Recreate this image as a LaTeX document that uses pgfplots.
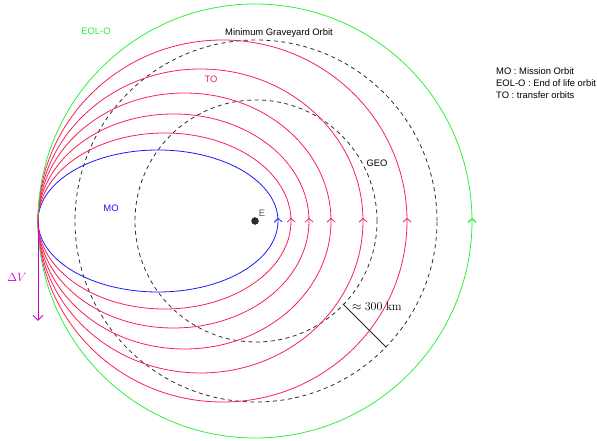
\documentclass[border=0pt]{standalone}
\usepackage[no-math]{fontspec}
\setmainfont{Liberation Sans}
\usepackage{pgfplots}
\pgfplotsset{compat=1.18}
\usetikzlibrary{arrows.meta,decorations.markings}

\definecolor{moblue}{RGB}{25,25,255}
\definecolor{tored}{RGB}{250,32,85}
\definecolor{eolgreen}{RGB}{45,240,60}
\definecolor{dvmag}{RGB}{205,0,205}
\definecolor{earthgray}{RGB}{45,45,45}

% orbit drawn as an ellipse whose right end carries a direction chevron
\tikzset{
  orbit/.style={line width=0.8pt,
    postaction={decorate,decoration={markings,
      mark=at position 3pt with {\arrow{Straight Barb[length=3.5pt,width=8pt,line width=#1]}}}}},
  orbit/.default=0.8pt,
  circ/.style={line width=0.8pt, draw=earthgray, dash pattern=on 4pt off 3.5pt},
}

\begin{document}
\begin{tikzpicture}[font=\fontsize{9.4}{11}\selectfont]
\begin{axis}[
  scale only axis, width=597pt, height=441pt,
  xmin=-256, xmax=341, ymin=-220, ymax=221,
  hide axis, clip=false,
]
\path (axis cs:-256,-220) rectangle (axis cs:341,221);

% GEO and minimum graveyard orbit, centred on the Earth
\draw[circ] (axis cs:0,0) circle [radius=121];
\draw[circ] (axis cs:0,0) circle [radius=181];

% mission orbit (apoapsis at -218, periapsis at 22)
\draw[orbit, moblue] (axis cs:-98,0) ellipse [x radius=120, y radius=71];
% transfer orbits
\draw[orbit, tored] (axis cs:-91.5,0) ellipse [x radius=126.5, y radius=88];
\draw[orbit, tored] (axis cs:-82.5,0) ellipse [x radius=135.5, y radius=107];
\draw[orbit, tored] (axis cs:-71.5,0) ellipse [x radius=146.5, y radius=128];
\draw[orbit, tored] (axis cs:-55.5,0) ellipse [x radius=162.5, y radius=152];
\draw[orbit, tored] (axis cs:-33.5,0) ellipse [x radius=184.5, y radius=181];
% end of life orbit
\draw[orbit=1.3pt, eolgreen] (axis cs:-1,0) ellipse [x radius=217, y radius=217];

% Earth
\addplot[only marks, mark=*, mark size=3.5pt, color=earthgray] coordinates {(-1,0)};
\node[text=black!65] at (axis cs:6,8) {E};

% delta-v burn at apoapsis
\draw[dvmag, line width=1pt, -{Straight Barb[length=5pt,width=10pt,line width=1pt]}]
  (axis cs:-218,1) -- (axis cs:-218,-100);
\node[text=dvmag, font=\fontsize{11.5}{13}\selectfont] at (axis cs:-239,-56) {$\Delta V$};

% separation between GEO and graveyard orbit
\draw[black!85, line width=0.8pt] (axis cs:87,-83) -- (axis cs:130,-126);
\node[anchor=west, inner sep=0pt, font=\fontsize{12}{14}\selectfont] at (axis cs:96,-85) {$\approx 300\ \mathrm{km}$};

% orbit labels
\node[text=eolgreen] at (axis cs:-160,190) {EOL-O};
\node[text=black] at (axis cs:23,188) {Minimum Graveyard Orbit};
\node[text=tored] at (axis cs:-45,142) {TO};
\node[text=black] at (axis cs:121,58) {GEO};
\node[text=moblue] at (axis cs:-145,13) {MO};

% key
\node[anchor=west, inner sep=0pt] at (axis cs:240,150.3) {MO : Mission Orbit};
\node[anchor=west, inner sep=0pt] at (axis cs:240,138.3) {EOL-O : End of life orbit};
\node[anchor=west, inner sep=0pt] at (axis cs:240,125.7) {TO : transfer orbits};
\end{axis}
\end{tikzpicture}
\end{document}
